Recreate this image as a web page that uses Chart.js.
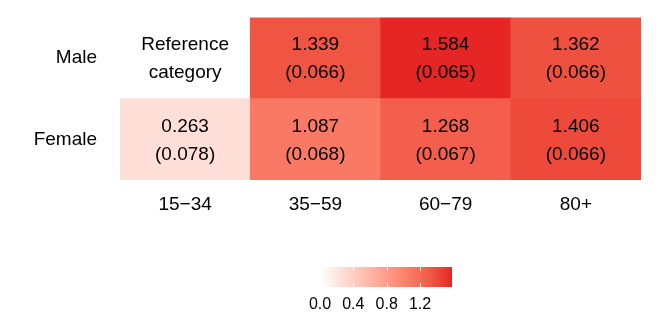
<!DOCTYPE html>
<html lang="en">
<head>
    <meta charset="UTF-8">
    <title>Heatmap</title>
    <script src="https://cdn.jsdelivr.net/npm/chart.js"></script>
    <style>
        html, body { margin: 0; padding: 0; background: #fff; overflow: hidden; }
        #wrap { position: relative; width: 664px; height: 332px; overflow: hidden; }
        #main { position: absolute; left: 0; top: -17px; width: 664px; height: 249px; }
        #bar { position: absolute; left: 0; top: 250px; width: 664px; height: 72px; }
    </style>
</head>
<body>
<div id="wrap">
    <div id="main"><canvas id="heatChart"></canvas></div>
    <div id="bar"><canvas id="legendChart"></canvas></div>
</div>
<script>
// data
const ageGroups = ['15\u221234', '35\u221259', '60\u221279', '80+'];
const sexes = ['Male', 'Female'];
const maleEst = [null, 1.339, 1.584, 1.362];
const maleSE = [null, 0.066, 0.065, 0.066];
const femaleEst = [0.263, 1.087, 1.268, 1.406];
const femaleSE = [0.078, 0.068, 0.067, 0.066];
const legendTicks = [0.0, 0.4, 0.8, 1.2];

const FONT = "'Liberation Sans', Arial, sans-serif";
const highColor = [229, 38, 36];
const maxVal = Math.max(...maleEst.filter(v => v !== null), ...femaleEst);

// white -> red, interpolated in Lab like ggplot does
function toLin(c) { c /= 255; return c <= 0.04045 ? c / 12.92 : Math.pow((c + 0.055) / 1.055, 2.4); }
function fromLin(c) { c = c <= 0.0031308 ? 12.92 * c : 1.055 * Math.pow(c, 1 / 2.4) - 0.055; return Math.round(Math.max(0, Math.min(1, c)) * 255); }
function rgb2lab(rgb) {
    const [r, g, b] = rgb.map(toLin);
    let x = (r * 0.4124 + g * 0.3576 + b * 0.1805) / 0.95047;
    let y = (r * 0.2126 + g * 0.7152 + b * 0.0722);
    let z = (r * 0.0193 + g * 0.1192 + b * 0.9505) / 1.08883;
    const f = t => t > 0.008856 ? Math.cbrt(t) : 7.787 * t + 16 / 116;
    x = f(x); y = f(y); z = f(z);
    return [116 * y - 16, 500 * (x - y), 200 * (y - z)];
}
function lab2rgb(lab) {
    let y = (lab[0] + 16) / 116, x = lab[1] / 500 + y, z = y - lab[2] / 200;
    const fi = t => t * t * t > 0.008856 ? t * t * t : (t - 16 / 116) / 7.787;
    x = fi(x) * 0.95047; y = fi(y); z = fi(z) * 1.08883;
    const r = x * 3.2406 + y * -1.5372 + z * -0.4986;
    const g = x * -0.9689 + y * 1.8758 + z * 0.0415;
    const b = x * 0.0557 + y * -0.2040 + z * 1.0570;
    return [fromLin(r), fromLin(g), fromLin(b)];
}
const labLow = rgb2lab([255, 255, 255]);
const labHigh = rgb2lab(highColor);
function fillFor(v) {
    if (v === null) return 'rgba(255,255,255,0)';
    const t = Math.max(0, Math.min(1, v / maxVal));
    const c = lab2rgb(labLow.map((l, i) => l + (labHigh[i] - l) * t));
    return 'rgb(' + c.join(',') + ')';
}

const estByRow = { Male: maleEst, Female: femaleEst };
const seByRow = { Male: maleSE, Female: femaleSE };

// stacked bars: bottom row first
const rowsBottomUp = sexes.slice().reverse();
const datasets = rowsBottomUp.map(s => ({
    label: s,
    data: ageGroups.map(() => 1),
    est: estByRow[s],
    se: seByRow[s],
    backgroundColor: estByRow[s].map(fillFor),
    borderWidth: 0,
    categoryPercentage: 1,
    barPercentage: 1
}));

const cellText = {
    id: 'cellText',
    afterDatasetsDraw(chart) {
        const ctx = chart.ctx;
        ctx.save();
        ctx.fillStyle = '#000';
        ctx.font = '19px ' + FONT;
        ctx.textAlign = 'center';
        ctx.textBaseline = 'middle';
        chart.data.datasets.forEach((ds, di) => {
            chart.getDatasetMeta(di).data.forEach((el, i) => {
                const cy = (el.y + el.base) / 2;
                let lines;
                if (ds.est[i] === null) lines = ['Reference', 'category'];
                else lines = [ds.est[i].toFixed(3), '(' + ds.se[i].toFixed(3) + ')'];
                ctx.fillText(lines[0], el.x, cy - 13);
                ctx.fillText(lines[1], el.x, cy + 15);
            });
        });
        ctx.restore();
    }
};

new Chart(document.getElementById('heatChart'), {
    type: 'bar',
    data: { labels: ageGroups, datasets: datasets },
    options: {
        responsive: true,
        maintainAspectRatio: false,
        animation: false,
        layout: { padding: { top: 1, right: 23, left: 0, bottom: 0 } },
        plugins: { legend: { display: false }, tooltip: { enabled: false } },
        scales: {
            x: {
                stacked: true,
                grid: { display: false, drawTicks: false },
                border: { display: false },
                ticks: { color: '#000', font: { family: FONT, size: 19 }, padding: 13 },
                afterFit(scale) { scale.height = 52; }
            },
            y: {
                stacked: true,
                min: 0,
                max: rowsBottomUp.length,
                grid: { display: false, drawTicks: false },
                border: { display: false },
                afterBuildTicks(scale) {
                    scale.ticks = rowsBottomUp.map((s, i) => ({ value: i + 0.5 }));
                },
                ticks: {
                    color: '#000',
                    font: { family: FONT, size: 19 },
                    padding: 23,
                    callback: (v) => rowsBottomUp[Math.floor(v)]
                },
                afterFit(scale) { scale.width = 120; }
            }
        }
    },
    plugins: [cellText]
});

// colour bar legend
const gradientFill = {
    id: 'gradientFill',
    beforeDatasetsDraw(chart) {
        const xs = chart.scales.x;
        const g = chart.ctx.createLinearGradient(xs.getPixelForValue(0), 0, xs.getPixelForValue(maxVal), 0);
        for (let k = 0; k <= 20; k++) g.addColorStop(k / 20, fillFor(maxVal * k / 20));
        chart.getDatasetMeta(0).data.forEach(el => { el.options.backgroundColor = g; });
    },
    afterDatasetsDraw(chart) {
        const ctx = chart.ctx, a = chart.chartArea, xs = chart.scales.x;
        ctx.save();
        ctx.strokeStyle = 'rgba(255,255,255,0.9)';
        ctx.lineWidth = 1;
        legendTicks.forEach(t => {
            if (t === 0) return;
            const px = Math.round(xs.getPixelForValue(t)) + 0.5;
            ctx.beginPath();
            ctx.moveTo(px, a.top); ctx.lineTo(px, a.top + 4);
            ctx.moveTo(px, a.bottom - 4); ctx.lineTo(px, a.bottom);
            ctx.stroke();
        });
        ctx.restore();
    }
};

new Chart(document.getElementById('legendChart'), {
    type: 'bar',
    data: {
        labels: ['fill'],
        datasets: [{ data: [[0, maxVal]], backgroundColor: '#f00', borderWidth: 0, categoryPercentage: 1, barPercentage: 1 }]
    },
    options: {
        indexAxis: 'y',
        responsive: true,
        maintainAspectRatio: false,
        animation: false,
        layout: { padding: { top: 17, left: 320, right: 212, bottom: 0 } },
        plugins: { legend: { display: false }, tooltip: { enabled: false } },
        scales: {
            x: {
                min: 0,
                max: maxVal,
                grid: { display: false, drawTicks: false },
                border: { display: false },
                afterBuildTicks(scale) { scale.ticks = legendTicks.map(v => ({ value: v })); },
                ticks: {
                    color: '#000',
                    font: { family: FONT, size: 16 },
                    padding: 8,
                    maxRotation: 0,
                    callback: (v) => Number(v).toFixed(1)
                },
                afterFit(scale) { scale.height = 35; }
            },
            y: { display: false }
        }
    },
    plugins: [gradientFill]
});
</script>
</body>
</html>
